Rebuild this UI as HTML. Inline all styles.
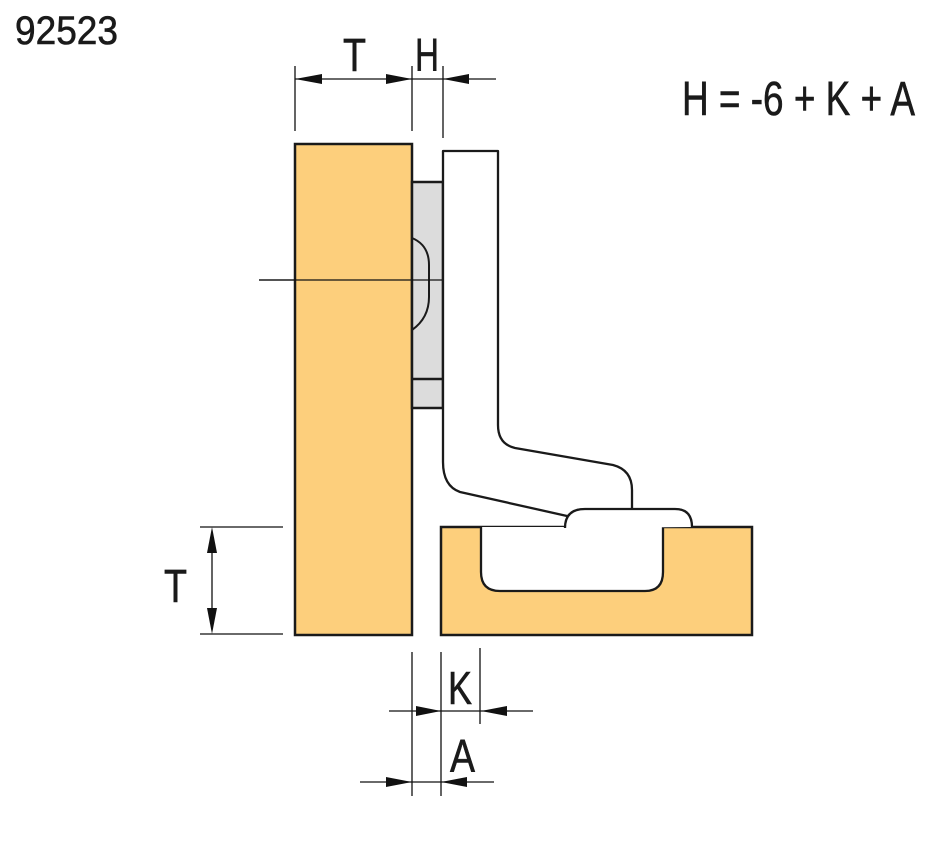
<!DOCTYPE html>
<html><head><meta charset="utf-8"><style>html,body{margin:0;padding:0;background:#fff}svg{display:block}</style></head><body>
<svg width="951" height="843" viewBox="0 0 951 843" xmlns="http://www.w3.org/2000/svg" font-family="Liberation Sans, sans-serif" fill="#1a1a1a">
<g stroke="#111" stroke-width="1.3">
<line x1="295" y1="66" x2="295" y2="131"/>
<line x1="412" y1="66" x2="412" y2="131"/>
<line x1="443" y1="66" x2="443" y2="138"/>
<line x1="295" y1="79" x2="496" y2="79"/>
<line x1="200" y1="527" x2="283" y2="527"/>
<line x1="200" y1="634" x2="283" y2="634"/>
<line x1="412" y1="652" x2="412" y2="796"/>
<line x1="441" y1="652" x2="441" y2="796"/>
<line x1="480" y1="648" x2="480" y2="724"/>
<line x1="389" y1="711" x2="533" y2="711"/>
<line x1="360" y1="782" x2="494" y2="782"/>
<line x1="259" y1="280" x2="457" y2="280"/>
</g>
<g fill="#111">
<path d="M295,79 L322,74 L322,84 Z"/>
<path d="M412,79 L386,74 L386,84 Z"/>
<path d="M443,79 L469,74 L469,84 Z"/>
<path d="M212,527 L207,553 L217,553 Z"/>
<path d="M212,634 L207,608 L217,608 Z"/>
<path d="M441,711 L416,706 L416,716 Z"/>
<path d="M481,711 L507,706 L507,716 Z"/>
<path d="M412,782 L386,777 L386,787 Z"/>
<path d="M441,782 L467,777 L467,787 Z"/>
</g>
<line x1="212" y1="550" x2="212" y2="611" stroke="#111" stroke-width="1.3"/>
<rect x="295" y="144" width="117" height="491" fill="#fdcf7c" stroke="#1a1a1a" stroke-width="2.5"/>
<line x1="259" y1="280" x2="412" y2="280" stroke="#111" stroke-width="1.3"/>
<rect x="412" y="182" width="31" height="226" fill="#dcdcdc" stroke="#1a1a1a" stroke-width="2.5"/>
<line x1="412" y1="379" x2="443" y2="379" stroke="#1a1a1a" stroke-width="2.5"/>
<path d="M412,238 Q429,245 429,265 L429,297 Q429,318 412,330" fill="none" stroke="#1a1a1a" stroke-width="2"/>
<line x1="412" y1="280" x2="457" y2="280" stroke="#111" stroke-width="1.3"/>
<path d="M443,151 L498,151 L498,425 Q498,444 515,448 L613,465 Q632,470 632,490 L632,510 L567,516 L460,492 Q443,486 443,462 Z" fill="#fff" stroke="#1a1a1a" stroke-width="2.3" stroke-linejoin="round"/>
<rect x="441" y="527" width="311" height="108" fill="#fdcf7c" stroke="#1a1a1a" stroke-width="2.5"/>
<path d="M481,527 L481,572 Q481,591 500,591 L645,591 Q663,591 663,572 L663,527" fill="#fff" stroke="#1a1a1a" stroke-width="2.3"/>
<path d="M565,528 Q565,509 585,509 L675,509 Q692,509 692,527" fill="#fff" stroke="#1a1a1a" stroke-width="2.3"/>
<g font-size="46" stroke="#1a1a1a" stroke-width="0.6">
<text x="15" y="44" textLength="103" lengthAdjust="spacingAndGlyphs" font-size="40">92523</text>
<text x="343" y="71" textLength="23" lengthAdjust="spacingAndGlyphs">T</text>
<text x="415" y="71" textLength="24" lengthAdjust="spacingAndGlyphs">H</text>
<text x="682" y="115" textLength="233" lengthAdjust="spacingAndGlyphs" font-size="48">H = -6 + K + A</text>
<text x="164" y="602" textLength="23" lengthAdjust="spacingAndGlyphs">T</text>
<text x="448" y="704" textLength="24" lengthAdjust="spacingAndGlyphs">K</text>
<text x="450" y="772" textLength="25" lengthAdjust="spacingAndGlyphs">A</text>
</g>
</svg>
</body></html>
